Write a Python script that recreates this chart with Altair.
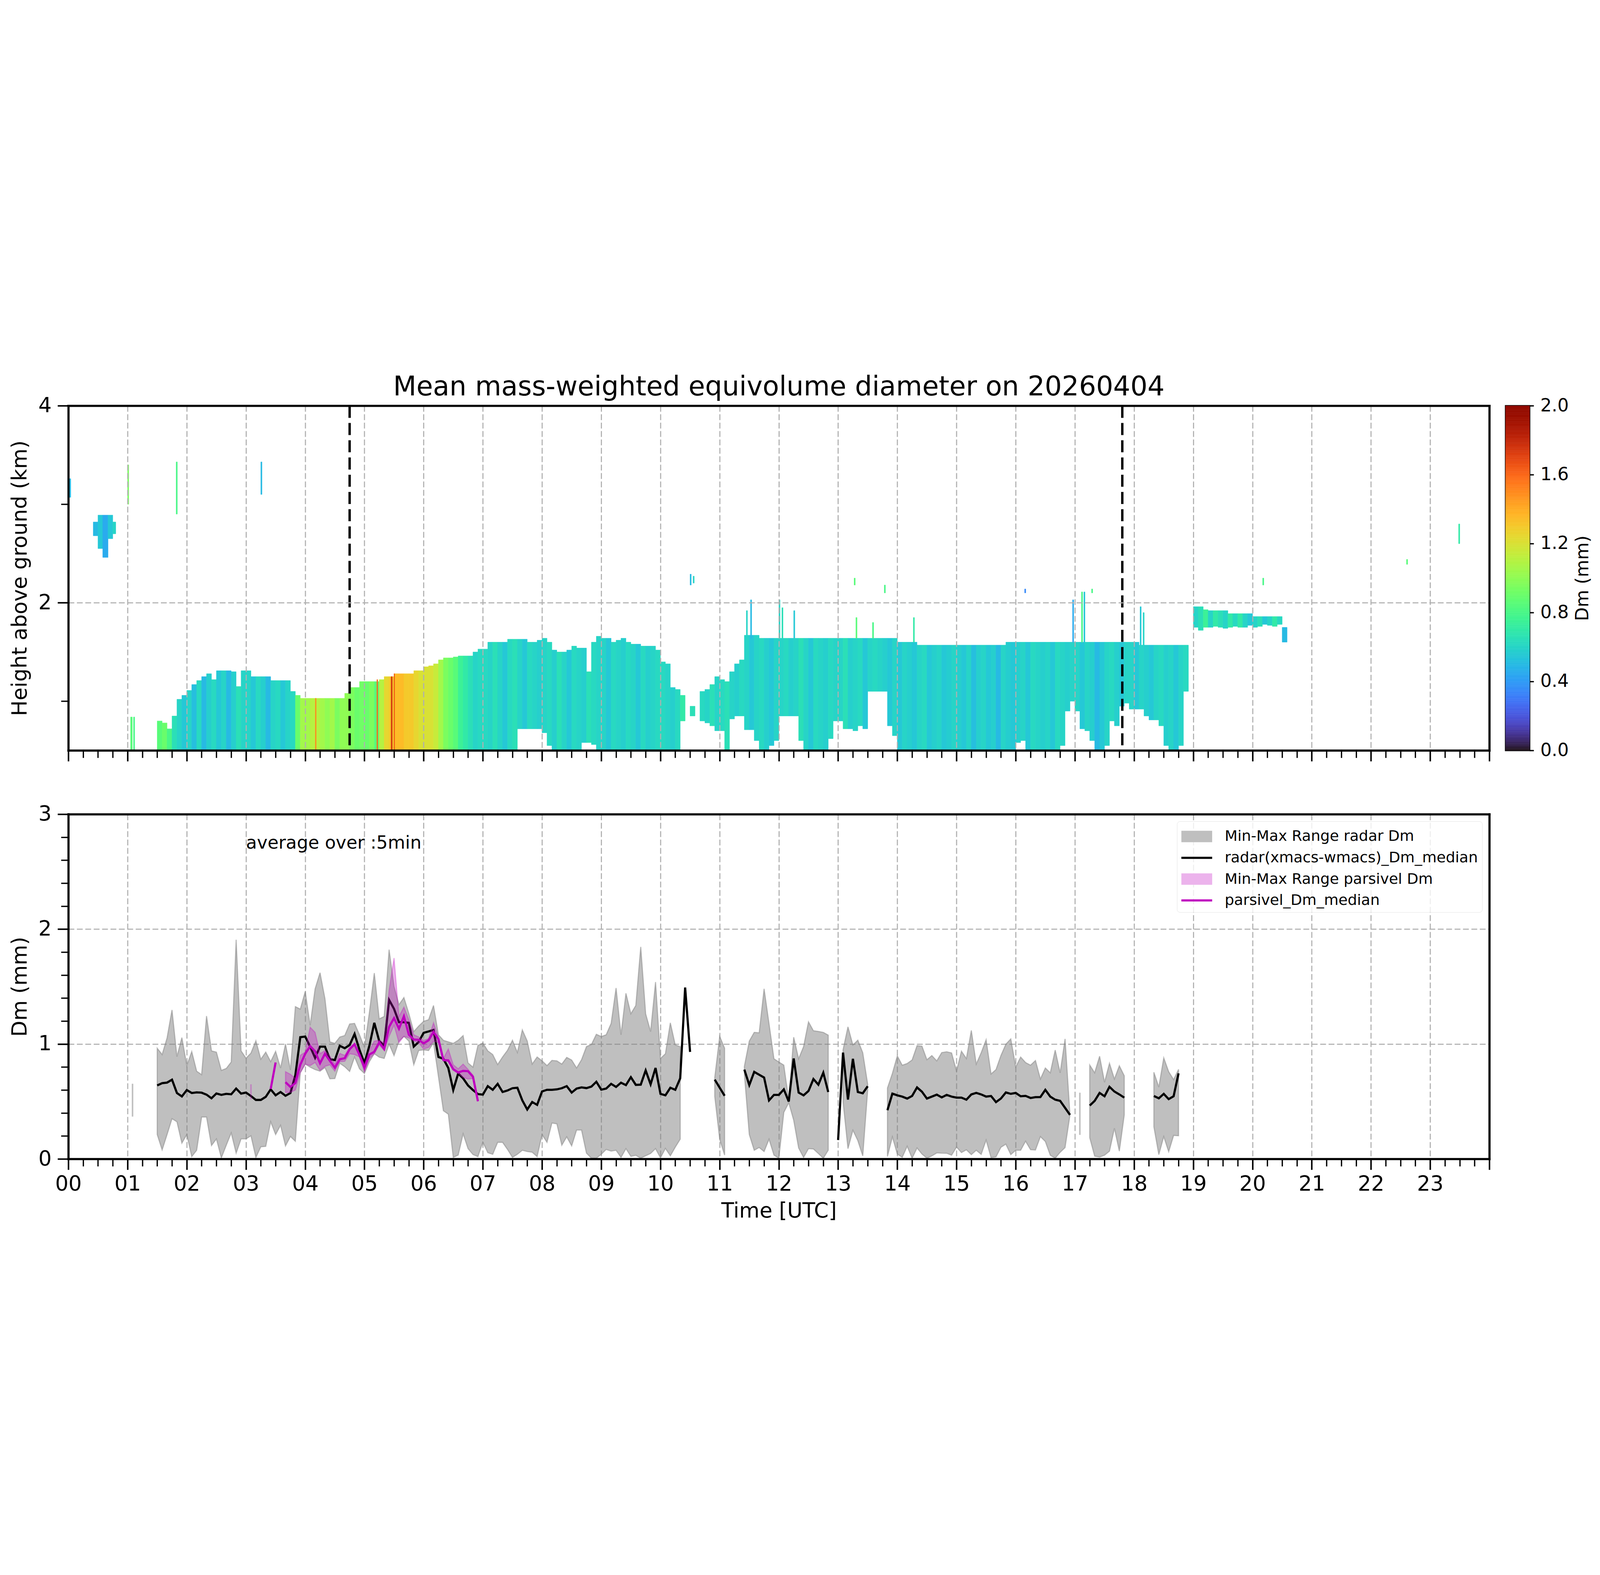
import altair as alt
import pandas as pd

FONT = "DejaVu Sans"
W, H = 6597, 1600

# ---------------- top panel: radar Dm curtain ----------------
# 5-min columns from 01:30 to 18:50 UTC: echo top (km), echo base (km), Dm (mm)
curtain_top = (
    [0.80, 0.78, 0.72, 0.85, 1.02, 1.06]
    + [1.11, 1.17, 1.21, 1.25, 1.28, 1.22, 1.31, 1.31, 1.31, 1.30, 1.15, 1.31]
    + [1.31, 1.25, 1.25, 1.25, 1.25, 1.21, 1.21, 1.21, 1.21, 1.10, 1.06, 1.03]
    + [1.03, 1.03, 1.03, 1.03, 1.03, 1.03, 1.03, 1.03, 1.08, 1.14, 1.14, 1.20]
    + [1.20, 1.20, 1.20, 1.22, 1.25, 1.25, 1.28, 1.28, 1.28, 1.28, 1.31, 1.31]
    + [1.35, 1.36, 1.38, 1.42, 1.44, 1.44, 1.45, 1.46, 1.46, 1.46, 1.50, 1.53]
    + [1.53, 1.60, 1.60, 1.60, 1.60, 1.63, 1.63, 1.63, 1.63, 1.60, 1.60, 1.62]
    + [1.64, 1.60, 1.52, 1.50, 1.50, 1.52, 1.56, 1.54, 1.54, 1.30, 1.60, 1.66]
    + [1.64, 1.64, 1.60, 1.62, 1.64, 1.60, 1.58, 1.58, 1.56, 1.56, 1.56, 1.52]
    + [1.40, 1.38, 1.14, 1.12, 1.06, None, 0.95, None, 1.10, 1.12, 1.17, 1.25]
    + [1.22, 1.20, 1.30, 1.38, 1.42, 1.67, 1.67, 1.67, 1.64, 1.64, 1.64, 1.64]
    + [1.64, 1.64, 1.64, 1.64, 1.64, 1.64, 1.64, 1.64, 1.64, 1.64, 1.64, 1.64]
    + [1.64, 1.64, 1.64, 1.64, 1.64, 1.64, 1.64, 1.64, 1.64, 1.64, 1.64, 1.64]
    + [1.60, 1.60, 1.60, 1.60, 1.57, 1.57, 1.57, 1.57, 1.57, 1.57, 1.57, 1.57]
    + [1.57, 1.57, 1.57, 1.57, 1.57, 1.57, 1.57, 1.57, 1.57, 1.57, 1.60, 1.60]
    + [1.60, 1.60, 1.60, 1.60, 1.60, 1.60, 1.60, 1.60, 1.60, 1.60, 1.60, 1.60]
    + [1.60, 1.60, 1.60, 1.60, 1.60, 1.60, 1.60, 1.60, 1.60, 1.60, 1.60, 1.60]
    + [1.60, 1.57, 1.57, 1.57, 1.57, 1.57, 1.57, 1.57, 1.57, 1.57, 1.57]
)
curtain_base = (
    [0.50, 0.50, 0.50, 0.50, 0.50, 0.50]
    + [0.50] * 12
    + [0.50] * 12
    + [0.50] * 12
    + [0.50] * 12
    + [0.50] * 12
    + [0.50, 0.50, 0.50, 0.50, 0.50, 0.50, 0.50, 0.72, 0.72, 0.72, 0.72, 0.72]
    + [0.68, 0.55, 0.50, 0.50, 0.50, 0.50, 0.50, 0.50, 0.58, 0.58, 0.56, 0.50]
    + [0.50] * 12
    + [0.50, 0.50, 0.50, 0.50, 0.80, 0.82, 0.85, 0.85, 0.80, 0.78, 0.75, 0.70]
    + [0.70, 0.50, 0.82, 0.85, 0.85, 0.71, 0.71, 0.60, 0.50, 0.50, 0.55, 0.60]
    + [0.85, 0.85, 0.85, 0.85, 0.60, 0.50, 0.50, 0.50, 0.50, 0.50, 0.62, 0.80]
    + [0.80, 0.72, 0.72, 0.70, 0.75, 0.72, 1.10, 1.10, 1.10, 1.10, 0.75, 0.65]
    + [0.50] * 12
    + [0.50] * 12
    + [0.58, 0.60, 0.50, 0.50, 0.50, 0.50, 0.50, 0.50, 0.50, 0.55, 0.90, 1.00]
    + [0.90, 0.72, 0.70, 0.60, 0.50, 0.50, 0.55, 0.80, 0.75, 0.95, 0.98, 0.92]
    + [0.92, 0.92, 0.85, 0.81, 0.81, 0.75, 0.55, 0.50, 0.50, 0.55, 1.10]
)
curtain_dm = (
    [0.85, 0.90, 0.80, 0.65, 0.60, 0.55]
    + [0.60, 0.52, 0.62, 0.50, 0.58, 0.62, 0.55, 0.60, 0.50, 0.58, 0.65, 0.60]
    + [0.60, 0.55, 0.62, 0.58, 0.50, 0.60, 0.62, 0.55, 0.60, 0.62, 0.90, 1.05]
    + [1.05, 1.10, 1.10, 1.05, 1.00, 1.05, 0.95, 1.00, 1.00, 0.95, 0.90, 0.92]
    + [0.90, 0.95, 0.85, 1.10, 1.25, 1.30, 1.35, 1.35, 1.30, 1.30, 1.25, 1.20]
    + [1.20, 1.20, 1.15, 1.05, 0.95, 0.90, 0.85, 0.75, 0.70, 0.65, 0.60, 0.62]
    + [0.62, 0.60, 0.65, 0.60, 0.55, 0.62, 0.65, 0.60, 0.55, 0.62, 0.60, 0.58]
    + [0.60, 0.62, 0.58, 0.65, 0.60, 0.55, 0.62, 0.60, 0.58, 0.65, 0.62, 0.60]
    + [0.60, 0.55, 0.62, 0.60, 0.58, 0.62, 0.60, 0.55, 0.62, 0.58, 0.60, 0.62]
    + [0.62, 0.60, 0.58, 0.62, 0.70, 0.60, 0.65, 0.55, 0.62, 0.60, 0.65, 0.60]
    + [0.62, 0.65, 0.60, 0.58, 0.62, 0.60, 0.55, 0.60, 0.62, 0.58, 0.55, 0.60]
    + [0.60, 0.62, 0.58, 0.60, 0.65, 0.60, 0.55, 0.62, 0.60, 0.58, 0.62, 0.60]
    + [0.60, 0.65, 0.58, 0.60, 0.62, 0.55, 0.60, 0.62, 0.60, 0.58, 0.55, 0.60]
    + [0.55, 0.60, 0.58, 0.55, 0.60, 0.62, 0.55, 0.58, 0.60, 0.55, 0.57, 0.60]
    + [0.58, 0.55, 0.60, 0.52, 0.58, 0.60, 0.55, 0.58, 0.50, 0.60, 0.57, 0.55]
    + [0.58, 0.60, 0.55, 0.62, 0.60, 0.58, 0.60, 0.55, 0.62, 0.60, 0.58, 0.60]
    + [0.60, 0.55, 0.60, 0.58, 0.50, 0.55, 0.60, 0.62, 0.58, 0.55, 0.60, 0.60]
    + [0.55, 0.60, 0.58, 0.55, 0.60, 0.62, 0.58, 0.60, 0.55, 0.60, 0.62]
)
curtain_start = 1.5

# elevated layer 19:00 - 20:30, 5-min columns
aloft_top = [1.96, 1.96, 1.93, 1.92, 1.92, 1.92, 1.92, 1.89, 1.89, 1.89,
             1.89, 1.89, 1.86, 1.86, 1.86, 1.86, 1.86, 1.86, 1.75]
aloft_base = [1.75, 1.72, 1.75, 1.75, 1.76, 1.75, 1.74, 1.75, 1.76, 1.75,
              1.75, 1.77, 1.75, 1.76, 1.78, 1.77, 1.76, 1.78, 1.60]
aloft_dm = [0.60, 0.65, 0.75, 0.60, 0.70, 0.65, 0.60, 0.70, 0.62, 0.70,
            0.60, 0.55, 0.60, 0.65, 0.55, 0.60, 0.70, 0.62, 0.50]
aloft_start = 19.0

# isolated echoes and streaks: start (h), end (h), bottom (km), top (km), Dm (mm)
iso_t0 = [0.00, 0.42, 0.50, 0.58, 0.67, 0.75, 1.00, 1.05, 1.10, 1.82, 3.25,
          10.50, 10.55, 13.27, 13.78, 16.15, 17.28, 20.17, 22.60, 23.48,
          11.45, 11.52, 12.00, 12.05, 12.25, 13.30, 13.58, 14.27, 16.96,
          17.11, 17.15, 18.10, 18.15,
          4.17, 5.21, 5.45, 5.50]
iso_t1 = [0.04, 0.50, 0.58, 0.67, 0.75, 0.80, 1.02, 1.08, 1.12, 1.84, 3.27,
          10.52, 10.57, 13.29, 13.80, 16.17, 17.30, 20.19, 22.62, 23.50,
          11.47, 11.54, 12.02, 12.07, 12.27, 13.32, 13.60, 14.29, 16.98,
          17.13, 17.17, 18.12, 18.17,
          4.185, 5.225, 5.47, 5.51]
iso_y0 = [3.07, 2.68, 2.55, 2.46, 2.65, 2.70, 3.00, 0.51, 0.50, 2.90, 3.10,
          2.18, 2.20, 2.18, 2.10, 2.10, 2.10, 2.18, 2.39, 2.60,
          1.64, 1.64, 1.64, 1.64, 1.64, 1.64, 1.64, 1.60, 1.60,
          1.60, 1.60, 1.57, 1.57,
          0.50, 0.50, 0.50, 0.50]
iso_y1 = [3.26, 2.82, 2.89, 2.89, 2.89, 2.82, 3.40, 0.84, 0.84, 3.43, 3.43,
          2.29, 2.27, 2.25, 2.18, 2.14, 2.14, 2.25, 2.44, 2.80,
          1.92, 2.03, 2.03, 1.95, 1.92, 1.85, 1.80, 1.85, 2.03,
          2.11, 2.11, 1.96, 1.90,
          1.03, 1.22, 1.25, 1.28]
iso_dm = [0.50, 0.50, 0.55, 0.45, 0.55, 0.60, 0.95, 0.85, 0.80, 0.80, 0.50,
          0.50, 0.60, 0.85, 0.80, 0.35, 0.80, 0.80, 0.85, 0.70,
          0.60, 0.50, 0.60, 0.65, 0.55, 0.85, 0.80, 0.70, 0.45,
          0.80, 0.55, 0.55, 0.60,
          1.50, 1.60, 1.75, 1.65]

marker_times = [4.75, 17.8]

# ---------------- bottom panel: 5-min Dm statistics ----------------
radar_start = 1.0  # 01:00 UTC, 5-min steps
radar_med = (
    [None, None, None, None, None, None, 0.64, 0.66, 0.665, 0.69, 0.574, 0.544]
    + [0.60, 0.574, 0.58, 0.577, 0.56, 0.528, 0.57, 0.558, 0.567, 0.563, 0.613, 0.569]
    + [0.578, 0.548, 0.514, 0.514, 0.541, 0.606, 0.554, 0.583, 0.55, 0.574, 0.73, 1.06]
    + [1.065, 0.978, 0.88, 0.978, 0.978, 0.868, 0.861, 0.985, 0.964, 0.992, 1.088, 0.95]
    + [0.833, 0.985, 1.185, 1.026, 0.985, 1.384, 1.306, 1.19, 1.19, 1.185, 0.978, 1.019]
    + [1.098, 1.11, 1.123, 0.888, 0.872, 0.792, 0.60, 0.744, 0.702, 0.64, 0.60, 0.565]
    + [0.56, 0.634, 0.602, 0.654, 0.583, 0.596, 0.616, 0.62, 0.51, 0.431, 0.496, 0.471]
    + [0.588, 0.602, 0.602, 0.606, 0.616, 0.634, 0.578, 0.613, 0.623, 0.617, 0.63, 0.672]
    + [0.603, 0.613, 0.654, 0.627, 0.664, 0.643, 0.712, 0.645, 0.647, 0.771, 0.65, 0.792]
    + [0.567, 0.554, 0.62, 0.602, 0.702, 1.492, 0.932, None, None, None, None, 0.691]
    + [0.62, 0.55, None, None, None, 0.778, 0.643, 0.758, 0.733, 0.709, 0.51, 0.558]
    + [0.558, 0.606, 0.50, 0.875, 0.578, 0.554, 0.592, 0.696, 0.647, 0.751, 0.583, None]
    + [0.165, 0.926, 0.517, 0.872, 0.583, 0.572, 0.633, None, None, None, 0.424, 0.569]
    + [0.554, 0.543, 0.526, 0.549, 0.623, 0.585, 0.526, 0.543, 0.56, 0.536, 0.558, 0.543]
    + [0.534, 0.534, 0.516, 0.562, 0.575, 0.562, 0.543, 0.548, 0.495, 0.526, 0.579, 0.567]
    + [0.575, 0.546, 0.549, 0.531, 0.538, 0.539, 0.602, 0.543, 0.516, 0.506, 0.445, 0.384]
    + [None, None, None, 0.465, 0.506, 0.575, 0.546, 0.628, 0.587, 0.562, 0.534, None]
    + [None, None, None, None, 0.548, 0.528, 0.567, 0.521, 0.546, 0.745]
)
radar_max = (
    [None, 0.655, None, None, None, None, 0.964, 0.909, 1.054, 1.297, 0.891, 1.056]
    + [0.813, 0.935, 0.764, 0.734, 1.244, 0.941, 0.93, 0.771, 0.788, 0.844, 1.908, 0.941]
    + [0.877, 0.922, 1.029, 0.868, 0.93, 0.847, 0.937, 0.792, 1.001, 0.775, 1.326, 1.304]
    + [1.457, 1.164, 1.481, 1.621, 1.395, 1.019, 1.006, 1.061, 1.074, 1.175, 1.18, 1.081]
    + [0.971, 1.274, 1.618, 1.219, 1.24, 1.822, 1.501, 1.343, 1.405, 1.267, 1.109, 1.157]
    + [1.198, 1.212, 1.336, 1.081, 1.033, 1.019, 1.006, 1.033, 1.074, 0.836, 0.799, 0.988]
    + [1.01, 0.941, 0.909, 0.822, 0.888, 0.946, 1.033, 0.927, 1.123, 1.026, 0.826, 0.888]
    + [0.854, 0.813, 0.858, 0.854, 0.826, 0.884, 0.861, 0.792, 0.864, 0.978, 0.996, 1.085]
    + [1.065, 1.081, 1.18, 1.488, 1.081, 1.442, 1.264, 1.336, 1.846, 1.263, 1.109, 1.54]
    + [0.875, 0.916, 1.185, 0.992, 0.978, None, None, None, None, None, None, 0.71]
    + [1.067, 0.964, None, None, None, 0.806, 1.026, 1.102, 1.098, 1.481, 1.178, 0.872]
    + [0.844, 0.817, 0.51, 1.06, 0.872, 0.978, 1.194, 1.116, 1.11, 1.102, 1.078, None]
    + [None, 0.95, 1.15, 0.992, 1.034, 0.925, 0.65, None, None, None, 0.617, 0.745]
    + [0.897, 0.816, 0.831, 0.862, 0.986, 0.982, 0.864, 0.9, 0.854, 0.926, 0.933, 0.923]
    + [0.765, 0.938, 0.874, 1.119, 0.826, 0.925, 1.038, 0.74, 0.778, 0.9, 0.999, 1.045]
    + [0.801, 0.887, 0.839, 0.816, 0.857, 0.696, 0.792, 0.75, 0.948, 0.75, 1.045, 0.384]
    + [None, 0.577, None, 0.818, 0.75, 0.894, 0.668, 0.833, 0.696, 0.811, 0.724, None]
    + [None, None, None, None, 0.755, 0.626, 0.88, 0.76, 0.691, 0.78]
)
radar_min = (
    [None, 0.369, None, None, None, None, 0.213, 0.079, 0.213, 0.351, 0.324, 0.138]
    + [0.213, 0.021, 0.076, 0.365, 0.365, 0.117, 0.175, 0.01, 0.12, 0.227, 0.051, 0.175]
    + [0.175, 0.202, 0.014, 0.106, 0.11, 0.324, 0.213, 0.293, 0.114, 0.196, 0.154, 0.75]
    + [0.826, 0.799, 0.778, 0.764, 0.795, 0.698, 0.70, 0.833, 0.803, 0.762, 0.888, 0.785]
    + [0.744, 0.847, 0.916, 0.886, 0.875, 1.0, 0.9, 1.026, 1.067, 1.026, 0.82, 0.944]
    + [0.95, 0.944, 1.012, 0.716, 0.42, 0.39, 0.014, 0.034, 0.219, 0.09, 0.039, 0.021]
    + [0.147, 0.055, 0.041, 0.145, 0.145, 0.083, 0.014, 0.041, 0.076, 0.065, 0.059, 0.021]
    + [0.213, 0.145, 0.313, 0.306, 0.12, 0.193, 0.114, 0.252, 0.252, 0.051, 0.007, 0.007]
    + [0.041, 0.083, 0.069, 0.076, 0.014, 0.09, 0.023, 0.032, 0.007, 0.028, 0.048, 0.09]
    + [0.01, 0.092, 0.028, 0.103, 0.172, None, None, None, None, None, None, 0.544]
    + [0.172, 0.034, None, None, None, 0.74, 0.213, 0.076, 0.1, 0.065, 0.172, 0.034]
    + [0.007, 0.406, 0.489, 0.337, 0.096, 0.014, 0.09, 0.087, 0.048, 0.007, 0.076, None]
    + [None, 0.5, 0.09, 0.25, 0.16, 0.027, 0.6, None, None, None, 0.022, 0.192]
    + [0.043, 0.015, 0.111, 0.007, 0.096, 0.043, 0.007, 0.027, 0.053, 0.051, 0.05, 0.033]
    + [0.104, 0.056, 0.08, 0.038, 0.076, 0.04, 0.165, 0.012, 0.019, 0.102, 0.129, 0.038]
    + [0.076, 0.076, 0.155, 0.081, 0.078, 0.195, 0.152, 0.033, 0.007, 0.058, 0.099, 0.384]
    + [None, 0.21, None, 0.185, 0.025, 0.017, 0.033, 0.068, 0.267, 0.068, 0.384, None]
    + [None, None, None, None, 0.28, 0.038, 0.195, 0.063, 0.205, 0.202]
)

pars_start = 3.0  # 03:00 UTC, 5-min steps
pars_med = (
    [None, None, None, None, None, 0.61, 0.84, None, 0.668, 0.627, 0.661, 0.82]
    + [0.916, 0.982, 0.937, 0.833, 0.916, 0.854, 0.795, 0.868, 0.877, 0.955, 0.999, 0.905]
    + [0.795, 0.909, 0.933, 1.015, 0.957, 1.15, 1.226, 1.134, 1.242, 1.081, 1.04, 1.037]
    + [1.006, 1.033, 1.106, 1.043, 0.861, 0.858, 0.781, 0.753, 0.767, 0.764, 0.716, 0.503]
)
pars_max = (
    [None, 0.65, None, None, None, None, None, None, 0.76, 0.737, 0.70, 0.902]
    + [0.93, 1.147, 1.102, 0.916, 0.944, 0.895, 0.826, 0.919, 0.902, 0.971, 1.006, 0.916]
    + [0.826, 0.944, 1.026, 1.033, 1.012, 1.467, 1.749, 1.24, 1.322, 1.212, 1.081, 1.061]
    + [1.033, 1.047, 1.185, 1.06, 0.875, 0.957, 0.82, 0.785, 0.826, 0.78, 0.73, 0.51]
)
pars_min = (
    [None, 0.52, None, None, None, None, None, None, 0.579, 0.579, 0.60, 0.751]
    + [0.826, 0.813, 0.84, 0.771, 0.806, 0.82, 0.764, 0.847, 0.85, 0.916, 0.909, 0.888]
    + [0.758, 0.875, 0.916, 0.992, 0.944, 1.067, 1.164, 1.012, 1.067, 1.054, 1.026, 1.012]
    + [0.957, 0.971, 1.026, 1.012, 0.854, 0.847, 0.771, 0.744, 0.709, 0.696, 0.70, 0.50]
)

legend_labels = ["Min-Max Range radar Dm", "radar(xmacs-wmacs)_Dm_median",
                 "Min-Max Range parsivel Dm", "parsivel_Dm_median"]
legend_colors = ["#bfbfbf", "#000000", "#ecb3ec", "#bf00bf"]

hour_ticks = list(range(25))
inner_hours = list(range(1, 24))
quarter_ticks = [q / 4 for q in range(97) if q % 4]
dm_minor = [0.2, 0.4, 0.6, 0.8, 1.2, 1.4, 1.6, 1.8, 2.2, 2.4, 2.6, 2.8]
cbar_ticks = [0, 0.4, 0.8, 1.2, 1.6, 2.0]
cbar_steps = [i / 100 for i in range(200)]  # colour ramp of the colorbar


# ---------------- frames ----------------
def columns(start, tops, bases, dms):
    rows = []
    for i, (top, base, dm) in enumerate(zip(tops, bases, dms)):
        if top is None:
            continue
        t0 = start + i / 12
        rows.append({"t0": t0, "t1": t0 + 1 / 12, "y0": base, "y1": top, "dm": dm})
    return rows


cells = columns(curtain_start, curtain_top, curtain_base, curtain_dm)
cells += columns(aloft_start, aloft_top, aloft_base, aloft_dm)
cells += [{"t0": a, "t1": b, "y0": c, "y1": d, "dm": e}
          for a, b, c, d, e in zip(iso_t0, iso_t1, iso_y0, iso_y1, iso_dm)]
curtain_df = pd.DataFrame(cells)


def runs(start, lo, hi):
    rows, seg, open_run = [], 0, False
    for i, (a, b) in enumerate(zip(lo, hi)):
        if a is None or b is None:
            open_run = False
            continue
        if not open_run:
            seg += 1
            open_run = True
        rows.append({"t": round(start + i / 12, 5), "lo": a, "hi": b, "seg": seg})
    df = pd.DataFrame(rows)
    df["n"] = df.groupby("seg")["t"].transform("size")
    return df


radar_band = runs(radar_start, radar_min, radar_max)
radar_line = runs(radar_start, radar_med, radar_med)
pars_band = runs(pars_start, pars_min, pars_max)
pars_line = runs(pars_start, pars_med, pars_med)

ramp = pd.DataFrame({"v0": cbar_steps})
ramp["v1"] = ramp.v0 + 0.01
ramp["vm"] = ramp.v0 + 0.005

# ---------------- scales & axes ----------------
xs = alt.Scale(domain=[0, 24], nice=False, zero=False)
ys_top = alt.Scale(domain=[0.5, 4], nice=False, zero=False)
ys_bot = alt.Scale(domain=[0, 3], nice=False, zero=False)
turbo = alt.Scale(scheme="turbo", domain=[0, 2])

FRAME = dict(domain=True, domainWidth=10, domainColor="black", domainCap="square", zindex=2)


def ghost(df, xf, yf, yscale, x_axis, y_axis):
    # invisible layer that only carries an axis (ticks, grid or frame side)
    return alt.Chart(df).mark_point(opacity=0).encode(
        x=alt.X(f"{xf}:Q", scale=xs, axis=x_axis),
        y=alt.Y(f"{yf}:Q", scale=yscale, axis=y_axis),
    )


def guide_layers(df, xf, yf, yscale, x_major, y_major, y_minor_vals, y_grid_vals, grid_z):
    return [
        ghost(df, xf, yf, yscale, x_major, y_major),
        ghost(df, xf, yf, yscale,
              alt.Axis(values=quarter_ticks, labels=False, tickSize=34, tickWidth=6,
                       grid=False, title=None, orient="bottom"),
              alt.Axis(values=y_minor_vals, labels=False, tickSize=34, tickWidth=6,
                       grid=False, title=None, orient="left")),
        ghost(df, xf, yf, yscale,
              alt.Axis(values=inner_hours, labels=False, ticks=False, grid=True,
                       title=None, orient="bottom", zindex=grid_z),
              alt.Axis(values=y_grid_vals, labels=False, ticks=False, grid=True,
                       title=None, orient="left", zindex=grid_z)),
        ghost(df, xf, yf, yscale,
              alt.Axis(labels=False, ticks=False, grid=False, title=None, orient="top", **FRAME),
              alt.Axis(labels=False, ticks=False, grid=False, title=None, orient="right", **FRAME)),
    ]


# ---------------- top panel ----------------
curtain = alt.Chart(curtain_df).mark_rect(strokeWidth=1.5).encode(
    x=alt.X("t0:Q", scale=xs, axis=None),
    x2="t1:Q",
    y=alt.Y("y0:Q", scale=ys_top, axis=None),
    y2="y1:Q",
    color=alt.Color("dm:Q", scale=turbo, legend=None),
    stroke=alt.Stroke("dm:Q", scale=turbo, legend=None),
)

markers = alt.Chart(pd.DataFrame({"t": marker_times})).mark_rule(
    color="black", strokeDash=[56, 24], strokeWidth=11
).encode(x=alt.X("t:Q", scale=xs, axis=None))

top_guides = guide_layers(
    curtain_df, "t0", "y0", ys_top,
    alt.Axis(values=hour_ticks, labels=False, tickSize=50, grid=False, title=None,
             orient="bottom", **FRAME),
    alt.Axis(values=[2, 4], tickSize=50, grid=False, labelPadding=28, titlePadding=35,
             title="Height above ground (km)", orient="left", **FRAME),
    [1, 3], [2], 1,
)

top = alt.layer(curtain, markers, *top_guides).resolve_axis(
    x="independent", y="independent"
).properties(
    width=W, height=H,
    title=alt.TitleParams("Mean mass-weighted equivolume diameter on 20260404",
                          fontSize=125, fontWeight="normal", anchor="middle",
                          frame="group", font=FONT, color="black", offset=-27),
)

colorbar = alt.Chart(ramp).mark_rect(strokeWidth=1).encode(
    y=alt.Y("v0:Q", scale=alt.Scale(domain=[0, 2], nice=False, zero=False),
            axis=alt.Axis(orient="right", values=cbar_ticks, format=".1f", tickSize=19,
                          tickWidth=6, labelFontSize=83, labelPadding=30, grid=False,
                          title="Dm (mm)", titleFontSize=83, titleAngle=270,
                          titleBaseline="top", titlePadding=25)),
    y2="v1:Q",
    color=alt.Color("vm:Q", scale=turbo, legend=None),
    stroke=alt.Stroke("vm:Q", scale=turbo, legend=None),
).properties(width=112, height=H, view=alt.ViewBackground(stroke="black", strokeWidth=6))

# ---------------- bottom panel ----------------
x_lab = "datum.value < 24 ? (datum.value < 10 ? '0' : '') + datum.value : ''"

radar_area = alt.Chart(radar_band[radar_band.n > 1]).mark_area(
    fill="#808080", fillOpacity=0.5, stroke="#808080", strokeOpacity=0.5, strokeWidth=5
).encode(
    x=alt.X("t:Q", scale=xs, axis=None),
    y=alt.Y("lo:Q", scale=ys_bot, axis=None),
    y2="hi:Q",
    detail="seg:N",
)
radar_single = alt.Chart(radar_band[radar_band.n == 1]).mark_rule(
    color="#808080", opacity=0.5, strokeWidth=7
).encode(x=alt.X("t:Q", scale=xs, axis=None), y=alt.Y("lo:Q", scale=ys_bot, axis=None), y2="hi:Q")

radar_med_line = alt.Chart(radar_line[radar_line.n > 1]).mark_line(
    color="black", strokeWidth=10
).encode(x=alt.X("t:Q", scale=xs, axis=None), y=alt.Y("lo:Q", scale=ys_bot, axis=None),
         detail="seg:N")

pars_area = alt.Chart(pars_band[pars_band.n > 1]).mark_area(
    fill="#bf00bf", fillOpacity=0.3, stroke="#bf00bf", strokeOpacity=0.3, strokeWidth=5
).encode(x=alt.X("t:Q", scale=xs, axis=None), y=alt.Y("lo:Q", scale=ys_bot, axis=None),
         y2="hi:Q", detail="seg:N")
pars_single = alt.Chart(pars_band[pars_band.n == 1]).mark_rule(
    color="#bf00bf", opacity=0.3, strokeWidth=7
).encode(x=alt.X("t:Q", scale=xs, axis=None), y=alt.Y("lo:Q", scale=ys_bot, axis=None), y2="hi:Q")

pars_med_line = alt.Chart(pars_line[pars_line.n > 1]).mark_line(
    color="#bf00bf", strokeWidth=10
).encode(x=alt.X("t:Q", scale=xs, axis=None), y=alt.Y("lo:Q", scale=ys_bot, axis=None),
         detail="seg:N")

note = alt.Chart(pd.DataFrame({"t": [3.0], "v": [2.7], "txt": ["average over :5min"]})).mark_text(
    align="left", baseline="alphabetic", fontSize=83, font=FONT, color="black"
).encode(x=alt.X("t:Q", scale=xs, axis=None), y=alt.Y("v:Q", scale=ys_bot, axis=None), text="txt:N")

PATCH = "M-1,-0.53H1.86V0.53H-1Z"
LINE = "M-1,-0.1H1.86V0.1H-1Z"
key_legend = alt.Legend(
    title=None, orient="top-right", offset=33, direction="vertical",
    symbolSize=10000, symbolStrokeWidth=0, symbolOpacity=1,
    labelFontSize=69, labelFont=FONT, labelColor="black", labelLimit=3000, labelOffset=101,
    rowPadding=14, padding=20, fillColor="rgba(255,255,255,0.8)", strokeColor="#cccccc",
    cornerRadius=14,
)
key = alt.Chart(pd.DataFrame({"entry": legend_labels})).transform_filter("false").mark_point(
    filled=True, opacity=1
).encode(
    color=alt.Color("entry:N", scale=alt.Scale(domain=legend_labels, range=legend_colors),
                    legend=key_legend),
    shape=alt.Shape("entry:N", scale=alt.Scale(domain=legend_labels,
                                               range=[PATCH, LINE, PATCH, LINE]),
                    legend=key_legend),
)

bot_guides = guide_layers(
    radar_band, "t", "lo", ys_bot,
    alt.Axis(values=hour_ticks, labelExpr=x_lab, tickSize=50, grid=False, labelFlush=False,
             labelPadding=18, titlePadding=30, title="Time [UTC]", orient="bottom", **FRAME),
    alt.Axis(values=[0, 1, 2, 3], tickSize=50, grid=False, labelPadding=28, titlePadding=35,
             title="Dm (mm)", orient="left", **FRAME),
    dm_minor, [1, 2], 0,
)

bottom = alt.layer(
    radar_area, radar_single, radar_med_line, pars_area, pars_single, pars_med_line,
    note, key, *bot_guides
).resolve_axis(x="independent", y="independent").properties(width=W, height=H)

upper_row = alt.hconcat(top, colorbar, spacing=75, bounds="flush").resolve_scale(
    x="independent", y="independent", color="independent", stroke="independent"
)

chart = alt.vconcat(upper_row, bottom, spacing=193).resolve_scale(
    x="independent", y="independent", color="independent", shape="independent",
    stroke="independent",
).properties(
    padding={"left": 30, "top": 80, "right": 20, "bottom": 20}
).configure(font=FONT).configure_view(
    strokeWidth=0
).configure_axis(
    domain=False, tickColor="black", tickWidth=7, labelFontSize=97, titleFontSize=97,
    titleFontWeight="normal", labelColor="black", titleColor="black", labelFont=FONT,
    titleFont=FONT, gridColor="#b0b0b0", gridDash=[27, 12], gridWidth=5,
)

chart.save("out.html", embed_options={"renderer": "svg", "actions": False})
